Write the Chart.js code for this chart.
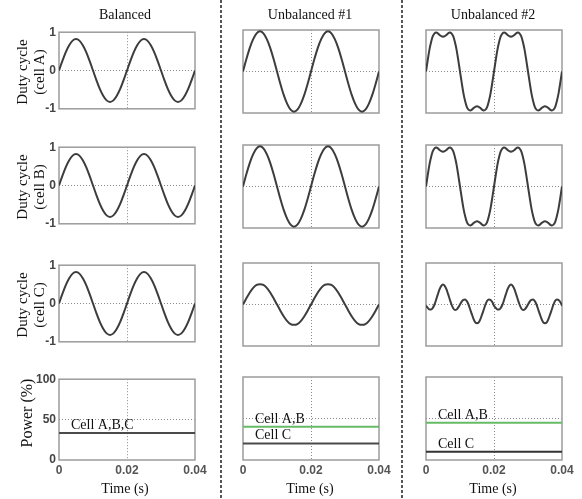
<!DOCTYPE html>
<html>
<head>
<meta charset="utf-8">
<script src="https://cdn.jsdelivr.net/npm/chart.js@4.4.1/dist/chart.umd.min.js"></script>
<style>
  html,body{margin:0;padding:0;background:#fff;}
  #root{position:relative;width:582px;height:499px;overflow:hidden;background:#fff;}
  .pane{position:absolute;}
  .txt{position:absolute;font-family:"Liberation Serif","Times New Roman",serif;color:#111;white-space:nowrap;}
  .rot{transform:translate(-50%,-50%) rotate(-90deg);}
  .ctr{transform:translate(-50%,-50%);}
</style>
</head>
<body>
<div id="root">
  <svg width="582" height="499" style="position:absolute;left:0;top:0">
    <line x1="221" y1="0" x2="221" y2="499" stroke="#555" stroke-width="2" stroke-dasharray="3,2"/>
    <line x1="402" y1="0" x2="402" y2="499" stroke="#555" stroke-width="2" stroke-dasharray="3,2"/>
  </svg>
</div>
<script>
// ---------- data ----------
const columnTitles = ["Balanced", "Unbalanced #1", "Unbalanced #2"];
const rowTitles = ["(cell A)", "(cell B)", "(cell C)"];
const xTickLabels = ["0", "0.02", "0.04"];
const dutyTickLabels = ["-1", "0", "1"];
const powerTickLabels = ["0", "50", "100"];

// duty cycles sampled every 1 ms (41 samples over 0..0.04 s)
const balancedDuty = [0,.25,.48,.66,.78,.82,.78,.66,.48,.25,0,-.25,-.48,-.66,-.78,-.82,-.78,-.66,-.48,-.25,
  0,.25,.48,.66,.78,.82,.78,.66,.48,.25,0,-.25,-.48,-.66,-.78,-.82,-.78,-.66,-.48,-.25,0];
const unbal1DutyAB = [0,.30,.57,.78,.92,.97,.92,.78,.57,.30,0,-.30,-.57,-.78,-.92,-.97,-.92,-.78,-.57,-.30,
  0,.30,.57,.78,.92,.97,.92,.78,.57,.30,0,-.30,-.57,-.78,-.92,-.97,-.92,-.78,-.57,-.30,0];
const unbal1DutyC = [0,.15,.29,.40,.47,.49,.47,.40,.29,.15,0,-.15,-.29,-.40,-.47,-.49,-.47,-.40,-.29,-.15,
  0,.15,.29,.40,.47,.49,.47,.40,.29,.15,0,-.15,-.29,-.40,-.47,-.49,-.47,-.40,-.29,-.15,0];
// duty cycles sampled every 0.5 ms (81 samples)
const unbal2DutyAB = [0,.27,.52,.71,.85,.92,.94,.92,.88,.85,.84,.85,.88,.92,.94,.92,.85,.71,.52,.27,
  0,-.27,-.52,-.71,-.85,-.92,-.94,-.92,-.88,-.85,-.84,-.85,-.88,-.92,-.94,-.92,-.85,-.71,-.52,-.27,
  0,.27,.52,.71,.85,.92,.94,.92,.88,.85,.84,.85,.88,.92,.94,.92,.85,.71,.52,.27,
  0,-.27,-.52,-.71,-.85,-.92,-.94,-.92,-.88,-.85,-.84,-.85,-.88,-.92,-.94,-.92,-.85,-.71,-.52,-.27,0];
const unbal2DutyC = [-.03,-.08,-.12,-.12,-.08,0,.12,.25,.37,.45,.48,.45,.37,.25,.12,0,-.09,-.13,-.12,-.07,
  0,.07,.11,.12,.08,0,-.12,-.24,-.35,-.43,-.45,-.43,-.35,-.24,-.12,0,.09,.12,.11,.06,
  -.03,-.08,-.12,-.12,-.08,0,.12,.25,.37,.45,.48,.45,.37,.25,.12,0,-.09,-.13,-.12,-.07,
  0,.07,.11,.12,.08,0,-.12,-.24,-.35,-.43,-.45,-.43,-.35,-.24,-.12,0,.09,.12,.11,.06,-.03];

// power shares (%)
const powerBalanced = [33.3];
const powerUnbal1 = [40, 20];   // Cell A,B ; Cell C
const powerUnbal2 = [45, 10];
const powerLabelsBalanced = ["Cell A,B,C"];
const powerLabelsUnbal = ["Cell A,B", "Cell C"];
const powerTimes = [0, 0.04];

// ---------- helpers ----------
function series(vals, step){ return vals.map((v,i)=>({x:+(i*step).toFixed(5), y:v})); }
const CURVE = '#3d3d3d', GREEN = '#66bb66', GRAYLINE = '#4a4a4a';

const boxLeft = [59, 243, 426];
const boxTop = [30, 145, 263, 377];
const BOXW = 136, BOXH = 83;
const YW = 30, PT = 8, PR = 16, PB = 6, XH = 22;

const boxPlugin = {
  id:'box',
  beforeDatasetsDraw(chart){
    const a = chart.chartArea, c = chart.ctx;
    c.save(); c.strokeStyle = '#9c9c9c'; c.lineWidth = 1.5;
    c.strokeRect(a.left, a.top, a.right - a.left, a.bottom - a.top);
    c.restore();
  }
};
const labelPlugin = {
  id:'lineLabels',
  afterDatasetsDraw(chart, args, opts){
    if(!opts.items) return;
    const c = chart.ctx, y = chart.scales.y, a = chart.chartArea;
    c.save(); c.font = '14px "Liberation Serif", serif'; c.fillStyle = '#111';
    c.textBaseline = 'alphabetic'; c.textAlign = 'left';
    opts.items.forEach(it => c.fillText(it.text, a.left + 12, y.getPixelForValue(it.value) - 4));
    c.restore();
  }
};

const root = document.getElementById('root');
function addText(txt, x, y, size, cls){
  const d = document.createElement('div');
  d.className = 'txt ' + cls; d.style.left = x + 'px'; d.style.top = y + 'px';
  d.style.fontSize = size + 'px'; d.textContent = txt; root.appendChild(d);
}

function panel(col, row, datasets, power, labels){
  const showX = row === 3, showY = col === 0;
  const div = document.createElement('div');
  div.className = 'pane';
  const w = YW + BOXW + PR, h = PT + BOXH + PB + (showX ? XH : 0);
  div.style.left = (boxLeft[col] - YW) + 'px';
  div.style.top = (boxTop[row] - PT) + 'px';
  div.style.width = w + 'px'; div.style.height = h + 'px';
  const cv = document.createElement('canvas');
  div.appendChild(cv); root.appendChild(div);
  const yLabels = power ? powerTickLabels : dutyTickLabels;
  const gridMid = (ctx) => ctx.index === 1 ? '#8a8a8a' : 'rgba(0,0,0,0)';
  new Chart(cv, {
    type:'line',
    data:{datasets},
    plugins:[boxPlugin, labelPlugin],
    options:{
      responsive:true, maintainAspectRatio:false, animation:false, events:[],
      layout:{padding:{left:0, top:PT, right:PR, bottom:PB}},
      plugins:{legend:{display:false}, tooltip:{enabled:false}, lineLabels:{items:labels}},
      elements:{point:{radius:0}},
      scales:{
        x:{type:'linear', min:0, max:0.04,
           ticks:{stepSize:0.02, display:showX, color:'#555', padding:3,
                  font:{family:'"Liberation Sans", Arial, sans-serif', size:12, weight:'bold'},
                  callback:(v,i)=>xTickLabels[i], maxRotation:0, autoSkip:false},
           grid:{color:gridMid, drawTicks:false, tickBorderDash:[1,2]},
           border:{display:false, dash:[1,2]},
           afterFit(s){ s.height = showX ? XH : 0; }},
        y:{type:'linear', min: power ? 0 : -1, max: power ? 100 : 1,
           ticks:{stepSize: power ? 50 : 1, display:showY, color:'#444', padding:3,
                  font:{family:'"Liberation Sans", Arial, sans-serif', size:12, weight:'bold'},
                  callback:(v,i)=>yLabels[i], autoSkip:false},
           grid:{color:gridMid, drawTicks:false},
           border:{display:false, dash:[1,2]},
           afterFit(s){ s.width = YW; }}
      }
    }
  });
}
// apply dotted dash to grid lines via defaults
Chart.defaults.scale.grid.lineWidth = 1;

function curve(vals, step){
  return {data:series(vals, step), borderColor:CURVE, borderWidth:2, cubicInterpolationMode:'monotone', fill:false};
}
function flat(v, color){
  return {data:powerTimes.map(t=>({x:t, y:v})), borderColor:color, borderWidth:2, fill:false};
}

// dotted grid: patch options after creation via scriptable borderDash
Chart.register({
  id:'dottedGrid',
  beforeInit(chart){
    ['x','y'].forEach(k=>{ chart.options.scales[k].border.dash = [1,2]; });
  }
});

const dutyCols = [
  [balancedDuty, balancedDuty, balancedDuty, 0.001],
  [unbal1DutyAB, unbal1DutyAB, unbal1DutyC, 0.001],
  [unbal2DutyAB, unbal2DutyAB, unbal2DutyC, 0.0005]
];
dutyCols.forEach((c, col)=>{
  for(let r=0;r<3;r++) panel(col, r, [curve(c[r], c[3])], false, null);
});
panel(0, 3, [flat(powerBalanced[0], GRAYLINE)], true,
      [{text:powerLabelsBalanced[0], value:powerBalanced[0]}]);
panel(1, 3, [flat(powerUnbal1[0], GREEN), flat(powerUnbal1[1], GRAYLINE)], true,
      [{text:powerLabelsUnbal[0], value:powerUnbal1[0]}, {text:powerLabelsUnbal[1], value:powerUnbal1[1]}]);
panel(2, 3, [flat(powerUnbal2[0], GREEN), flat(powerUnbal2[1], '#333')], true,
      [{text:powerLabelsUnbal[0], value:powerUnbal2[0]}, {text:powerLabelsUnbal[1], value:powerUnbal2[1]}]);

// text
const colCenters = [125, 310, 493];
columnTitles.forEach((t,i)=>addText(t, colCenters[i], 15, 14, 'ctr'));
colCenters.forEach(x=>addText("Time (s)", x, 489, 14, 'ctr'));
rowTitles.forEach((t,r)=>{
  const cy = boxTop[r] + BOXH/2;
  addText("Duty cycle", 22, cy, 15, 'rot');
  addText(t, 39, cy, 15, 'rot');
});
addText("Power (%)", 27, boxTop[3] + BOXH/2 - 6, 16, 'rot');
</script>
</body>
</html>
